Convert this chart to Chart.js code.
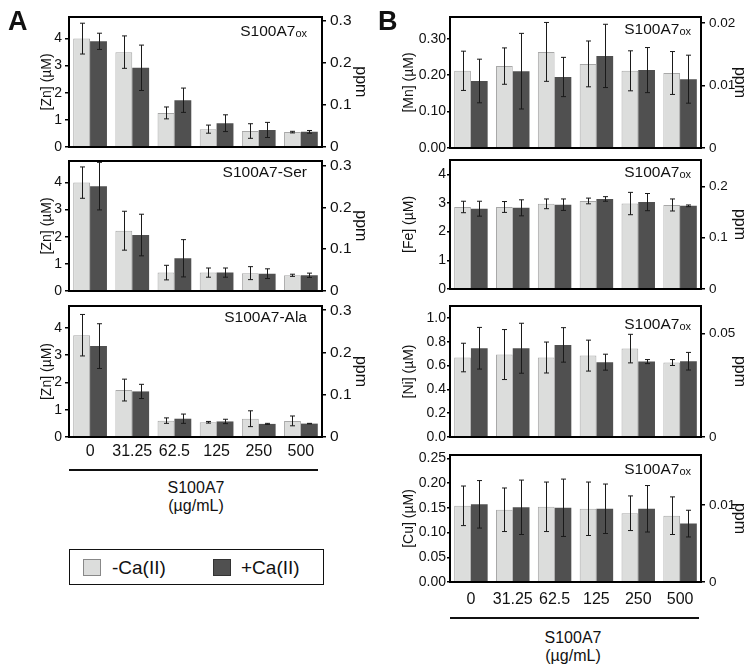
<!DOCTYPE html>
<html>
<head>
<meta charset="utf-8">
<script src="https://cdn.jsdelivr.net/npm/chart.js@4.4.0/dist/chart.umd.min.js"></script>
<style>
body { margin: 0; background: #fff; font-family: "Liberation Sans", Arial, sans-serif; color: #111; }
#fig { position: relative; width: 752px; height: 672px; overflow: hidden; }
#fig canvas { position: absolute; }
.abs { position: absolute; white-space: nowrap; line-height: 1; }
.letter { font-size: 27px; font-weight: bold; }
.plabel { font-size: 15.5px; }
.plabel span { font-size: 11px; position: relative; top: 1px; }
.xtitle { font-size: 16px; line-height: 18px; text-align: center; width: 200px; }
.rule { position: absolute; height: 2px; background: #111; }
#legend { position: absolute; left: 69px; top: 549px; width: 253px; height: 34px; border: 1.5px solid #111; }
.sw { position: absolute; width: 16px; height: 15px; border: 1px solid #888; top: 9px; }
.lt { position: absolute; top: 8px; font-size: 19px; line-height: 1; }
</style>
</head>
<body>
<div id="fig"></div>
<script>
const doses = ['0', '31.25', '62.5', '125', '250', '500'];
const seriesNames = ['-Ca(II)', '+Ca(II)'];

// A: Zn, three protein variants
const znOxMinus = [4.0, 3.5, 1.25, 0.65, 0.58, 0.54];
const znOxMinusErr = [0.57, 0.6, 0.22, 0.15, 0.27, 0.03];
const znOxPlus = [3.9, 2.92, 1.72, 0.87, 0.62, 0.55];
const znOxPlusErr = [0.3, 0.84, 0.45, 0.31, 0.28, 0.05];

const znSerMinus = [4.0, 2.22, 0.67, 0.67, 0.65, 0.57];
const znSerMinusErr = [0.58, 0.72, 0.27, 0.17, 0.24, 0.04];
const znSerPlus = [3.87, 2.06, 1.2, 0.67, 0.63, 0.57];
const znSerPlusErr = [0.88, 0.77, 0.69, 0.17, 0.18, 0.08];

const znAlaMinus = [3.73, 1.72, 0.6, 0.54, 0.67, 0.59];
const znAlaMinusErr = [0.76, 0.4, 0.1, 0.03, 0.29, 0.18];
const znAlaPlus = [3.33, 1.67, 0.67, 0.57, 0.48, 0.49];
const znAlaPlusErr = [0.82, 0.26, 0.17, 0.08, 0.02, 0.01];

// B: other metals, S100A7ox
const mnMinus = [0.212, 0.225, 0.264, 0.231, 0.212, 0.206];
const mnMinusErr = [0.054, 0.05, 0.081, 0.063, 0.055, 0.059];
const mnPlus = [0.184, 0.211, 0.195, 0.253, 0.214, 0.189];
const mnPlusErr = [0.06, 0.104, 0.054, 0.087, 0.062, 0.066];

const feMinus = [2.86, 2.86, 2.97, 3.07, 2.98, 2.93];
const feMinusErr = [0.2, 0.19, 0.17, 0.1, 0.39, 0.21];
const fePlus = [2.8, 2.83, 2.94, 3.14, 3.03, 2.9];
const fePlusErr = [0.26, 0.28, 0.2, 0.08, 0.3, 0.03];

const niMinus = [0.667, 0.692, 0.667, 0.683, 0.742, 0.625];
const niMinusErr = [0.12, 0.21, 0.13, 0.13, 0.12, 0.025];
const niPlus = [0.745, 0.745, 0.773, 0.628, 0.633, 0.636];
const niPlusErr = [0.175, 0.21, 0.145, 0.067, 0.017, 0.074];

const cuMinus = [0.154, 0.146, 0.152, 0.148, 0.139, 0.134];
const cuMinusErr = [0.04, 0.044, 0.05, 0.054, 0.035, 0.038];
const cuPlus = [0.157, 0.151, 0.15, 0.148, 0.148, 0.118];
const cuPlusErr = [0.048, 0.055, 0.058, 0.05, 0.047, 0.027];

// tick labels
const znTicks = ['0', '1', '2', '3', '4'];
const znPpmTicks = ['0', '0.1', '0.2', '0.3'];
const mnTicks = ['0.00', '0.10', '0.20', '0.30'];
const mnPpmTicks = ['0', '0.01', '0.02'];
const feTicks = ['0', '1', '2', '3', '4'];
const fePpmTicks = ['0', '0.1', '0.2'];
const niTicks = ['0.0', '0.2', '0.4', '0.6', '0.8', '1.0'];
const niPpmTicks = ['0', '0.05'];
const cuTicks = ['0.00', '0.05', '0.10', '0.15', '0.20', '0.25'];
const cuPpmTicks = ['0', '0.01'];

const barColors = ['#dcdddc', '#505050'];
const barBorders = ['#a8a8a8', '#505050'];

const panels = [
	{ col: 'A', top: 17, bottom: 148, yTitle: '[Zn] (\u00b5M)', name: 'S100A7<span>ox</span>', labelTop: 25,
		minus: znOxMinus, minusErr: znOxMinusErr, plus: znOxPlus, plusErr: znOxPlusErr,
		ticks: znTicks, max: 4.8, ppmTicks: znPpmTicks, ppmMax: 0.31 },
	{ col: 'A', top: 161, bottom: 292, yTitle: '[Zn] (\u00b5M)', name: 'S100A7-Ser', labelTop: 166,
		minus: znSerMinus, minusErr: znSerMinusErr, plus: znSerPlus, plusErr: znSerPlusErr,
		ticks: znTicks, max: 4.8, ppmTicks: znPpmTicks, ppmMax: 0.312 },
	{ col: 'A', top: 306, bottom: 437, yTitle: '[Zn] (\u00b5M)', name: 'S100A7-Ala', labelTop: 311, showX: true,
		minus: znAlaMinus, minusErr: znAlaMinusErr, plus: znAlaPlus, plusErr: znAlaPlusErr,
		ticks: znTicks, max: 4.8, ppmTicks: znPpmTicks, ppmMax: 0.31 },
	{ col: 'B', top: 17, bottom: 148, yTitle: '[Mn] (\u00b5M)', name: 'S100A7<span>ox</span>', labelTop: 23,
		minus: mnMinus, minusErr: mnMinusErr, plus: mnPlus, plusErr: mnPlusErr,
		ticks: mnTicks, max: 0.36, ppmTicks: mnPpmTicks, ppmMax: 0.021 },
	{ col: 'B', top: 160, bottom: 289, yTitle: '[Fe] (\u00b5M)', name: 'S100A7<span>ox</span>', labelTop: 166,
		minus: feMinus, minusErr: feMinusErr, plus: fePlus, plusErr: fePlusErr,
		ticks: feTicks, max: 4.5, ppmTicks: fePpmTicks, ppmMax: 0.252 },
	{ col: 'B', top: 306, bottom: 437, yTitle: '[Ni] (\u00b5M)', name: 'S100A7<span>ox</span>', labelTop: 318,
		minus: niMinus, minusErr: niMinusErr, plus: niPlus, plusErr: niPlusErr,
		ticks: niTicks, max: 1.1, ppmTicks: niPpmTicks, ppmMax: 0.0632 },
	{ col: 'B', top: 455, bottom: 582, yTitle: '[Cu] (\u00b5M)', name: 'S100A7<span>ox</span>', labelTop: 463, showX: true,
		minus: cuMinus, minusErr: cuMinusErr, plus: cuPlus, plusErr: cuPlusErr,
		ticks: cuTicks, max: 0.2567, ppmTicks: cuPpmTicks, ppmMax: 0.0165 },
];

// column geometry
const cols = {
	A: { left: 0, leftAxis: 69, rightAxis: 54, titlePad: 38.6, ppmPad: 6.4, tickLen: 4, tickPad: 3, ppmFont: 15.5, labelRight: 445, xPad: 5 },
	B: { left: 376, leftAxis: 74, rightAxis: 51, titlePad: 24.6, ppmPad: 3.4, tickLen: 3, tickPad: 1, ppmFont: 13.5, labelRight: 61, xPad: 8 },
};

const frameLine = { display: true, color: '#000', width: 2, z: 1 };

const errorBars = {
	id: 'errorBars',
	afterDatasetsDraw(chart) {
		const ctx = chart.ctx;
		const y = chart.scales.y;
		ctx.save();
		ctx.strokeStyle = '#1a1a1a';
		ctx.lineWidth = 1;
		chart.data.datasets.forEach((ds, i) => {
			chart.getDatasetMeta(i).data.forEach((bar, j) => {
				const v = ds.data[j];
				const e = ds.errors[j];
				const x = Math.round(bar.x) + 0.5;
				const t = y.getPixelForValue(v + e);
				const b = y.getPixelForValue(v - e);
				ctx.beginPath();
				ctx.moveTo(x, t);
				ctx.lineTo(x, b);
				ctx.moveTo(x - 2.5, t);
				ctx.lineTo(x + 2.5, t);
				ctx.moveTo(x - 2.5, b);
				ctx.lineTo(x + 2.5, b);
				ctx.stroke();
			});
		});
		ctx.restore();
	},
};

const fig = document.getElementById('fig');

function addDiv(cls, style, html) {
	const d = document.createElement('div');
	d.className = cls;
	d.setAttribute('style', style);
	d.innerHTML = html;
	fig.appendChild(d);
	return d;
}

panels.forEach((p) => {
	const c = cols[p.col];
	const canvas = document.createElement('canvas');
	const h = p.bottom - p.top + 20 + (p.showX ? 30 : 12);
	canvas.width = 376;
	canvas.height = h;
	canvas.style.left = c.left + 'px';
	canvas.style.top = (p.top - 20) + 'px';
	fig.appendChild(canvas);

	new Chart(canvas, {
		type: 'bar',
		data: {
			labels: doses,
			datasets: [
				{
					label: seriesNames[0],
					data: p.minus,
					errors: p.minusErr,
					backgroundColor: barColors[0],
					borderColor: barBorders[0],
					borderWidth: 1,
					categoryPercentage: 0.8,
					barPercentage: 1.0,
				},
				{
					label: seriesNames[1],
					data: p.plus,
					errors: p.plusErr,
					backgroundColor: barColors[1],
					borderColor: barBorders[1],
					borderWidth: 0,
					categoryPercentage: 0.8,
					barPercentage: 1.0,
				},
			],
		},
		options: {
			responsive: false,
			animation: false,
			devicePixelRatio: 1,
			layout: { padding: { top: 20, bottom: p.showX ? 0 : 12, left: 0, right: 0 } },
			plugins: {
				legend: { display: false },
				tooltip: { enabled: false },
			},
			scales: {
				x: {
					position: 'bottom',
					afterFit: (s) => { s.height = p.showX ? 30 : 0; },
					ticks: {
						display: !!p.showX,
						color: '#111',
						padding: c.xPad,
						maxRotation: 0,
						autoSkip: false,
						font: { family: '"Liberation Sans", Arial', size: 16 },
					},
					grid: { display: false, drawTicks: false },
					border: frameLine,
				},
				xTop: {
					type: 'category',
					position: 'top',
					afterFit: (s) => { s.height = 0; },
					ticks: { display: false },
					grid: { display: false, drawTicks: false },
					border: frameLine,
				},
				y: {
					position: 'left',
					min: 0,
					max: p.max,
					bounds: 'data',
					afterBuildTicks: (s) => { s.ticks = p.ticks.map((t) => ({ value: parseFloat(t) })); },
					afterFit: (s) => { s.width = c.leftAxis; },
					ticks: {
						callback: (v, i) => p.ticks[i],
						color: '#111',
						padding: c.tickPad,
						font: { family: '"Liberation Sans", Arial', size: 14 },
					},
					grid: { display: true, drawOnChartArea: false, drawTicks: true, tickLength: c.tickLen, color: '#000', lineWidth: 1.5 },
					border: frameLine,
					title: {
						display: true,
						text: p.yTitle,
						color: '#111',
						padding: { top: c.titlePad, bottom: 0 },
						font: { family: '"Liberation Sans", Arial', size: 14 },
					},
				},
				y2: {
					position: 'right',
					min: 0,
					max: p.ppmMax,
					bounds: 'data',
					afterBuildTicks: (s) => { s.ticks = p.ppmTicks.map((t) => ({ value: parseFloat(t) })); },
					afterFit: (s) => { s.width = c.rightAxis; },
					ticks: {
						callback: (v, i) => p.ppmTicks[i],
						color: '#111',
						padding: 4,
						font: { family: '"Liberation Sans", Arial', size: c.ppmFont },
					},
					grid: { display: true, drawOnChartArea: false, drawTicks: true, tickLength: 4, color: '#000', lineWidth: 1.5 },
					border: frameLine,
					title: {
						display: true,
						text: 'ppm',
						color: '#111',
						padding: { top: c.ppmPad, bottom: 0 },
						font: { family: '"Liberation Sans", Arial', size: 16 },
					},
				},
			},
		},
		plugins: [errorBars],
	});

	addDiv('abs plabel', 'right:' + c.labelRight + 'px;top:' + (p.labelTop - 2) + 'px', p.name);
});

// panel letters
addDiv('abs letter', 'left:8px;top:8px', 'A');
addDiv('abs letter', 'left:378px;top:8px', 'B');

// x group titles under bottom panels
addDiv('rule', 'left:69px;top:469px;width:249px', '');
addDiv('abs xtitle', 'left:96px;top:479px', 'S100A7<br>(\u00b5g/mL)');
addDiv('rule', 'left:450px;top:617px;width:249px', '');
addDiv('abs xtitle', 'left:473px;top:629px', 'S100A7<br>(\u00b5g/mL)');

// legend
const legend = addDiv('', '', '');
legend.id = 'legend';
const swX = [13, 143];
const txtX = [42, 171];
seriesNames.forEach((name, i) => {
	const sw = document.createElement('div');
	sw.className = 'sw';
	sw.style.left = swX[i] + 'px';
	sw.style.background = barColors[i];
	if (i === 1) sw.style.borderColor = '#333';
	legend.appendChild(sw);
	const t = document.createElement('div');
	t.className = 'lt';
	t.style.left = txtX[i] + 'px';
	t.textContent = name;
	legend.appendChild(t);
});
</script>
</body>
</html>
